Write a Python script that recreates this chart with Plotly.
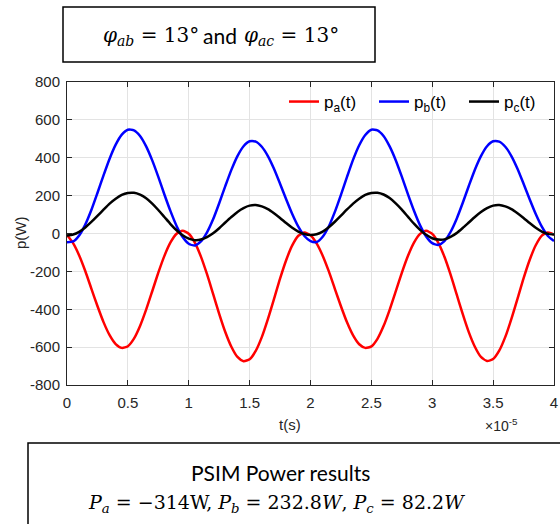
import plotly.graph_objects as go

# time axis in units of 1e-5 s
t = [0.00, 0.05, 0.10, 0.15, 0.20, 0.25, 0.30, 0.35, 0.40, 0.45,
     0.50, 0.55, 0.60, 0.65, 0.70, 0.75, 0.80, 0.85, 0.90, 0.95,
     1.00, 1.05, 1.10, 1.15, 1.20, 1.25, 1.30, 1.35, 1.40, 1.45,
     1.50, 1.55, 1.60, 1.65, 1.70, 1.75, 1.80, 1.85, 1.90, 1.95,
     2.00, 2.05, 2.10, 2.15, 2.20, 2.25, 2.30, 2.35, 2.40, 2.45,
     2.50, 2.55, 2.60, 2.65, 2.70, 2.75, 2.80, 2.85, 2.90, 2.95,
     3.00, 3.05, 3.10, 3.15, 3.20, 3.25, 3.30, 3.35, 3.40, 3.45,
     3.50, 3.55, 3.60, 3.65, 3.70, 3.75, 3.80, 3.85, 3.90, 3.95,
     4.00]

pa = [-8, -51, -116, -198, -291, -383, -468, -537, -584, -604,
      -595, -555, -488, -402, -305, -207, -118, -47, -1, 15,
      -1, -48, -122, -215, -319, -424, -520, -598, -652, -674,
      -664, -620, -547, -452, -346, -238, -141, -63, -12, 5,
      -9, -52, -117, -199, -292, -384, -469, -538, -585, -604,
      -596, -556, -489, -403, -306, -208, -119, -48, -2, 14,
      -2, -49, -123, -216, -320, -425, -521, -598, -652, -673,
      -663, -619, -546, -451, -345, -237, -140, -62, -11, 5,
      -6]

pb = [-46, -42, -10, 47, 124, 214, 307, 395, 469, 522,
      548, 545, 515, 460, 386, 299, 206, 118, 40, -19,
      -54, -63, -42, 6, 75, 160, 250, 336, 409, 461,
      487, 485, 458, 409, 342, 263, 181, 103, 36, -13,
      -40, -45, -17, 37, 114, 204, 299, 390, 466, 520,
      548, 545, 515, 460, 387, 300, 208, 120, 43, -16,
      -51, -60, -40, 8, 77, 161, 251, 337, 409, 461,
      487, 485, 458, 409, 342, 263, 181, 103, 36, -13,
      -40]

pc = [-10, -5, 9, 32, 61, 93, 126, 158, 184, 204,
      214, 215, 205, 186, 158, 124, 87, 50, 17, -9,
      -27, -35, -32, -19, 1, 28, 58, 87, 114, 134,
      147, 150, 143, 129, 107, 82, 55, 30, 10, -3,
      -8, -4, 10, 33, 62, 94, 127, 158, 184, 204,
      214, 215, 206, 187, 159, 126, 89, 52, 19, -7,
      -25, -32, -31, -18, 2, 29, 58, 87, 113, 134,
      147, 150, 143, 129, 107, 82, 55, 30, 10, -2,
      -5]

series_names = ["p<sub>a</sub>(t)", "p<sub>b</sub>(t)", "p<sub>c</sub>(t)"]
series_colors = ["#ff0000", "#0000ff", "#000000"]
x_ticks = [0, 0.5, 1, 1.5, 2, 2.5, 3, 3.5, 4]
x_ticktext = ["0", "0.5", "1", "1.5", "2", "2.5", "3", "3.5", "4"]
y_ticks = [-800, -600, -400, -200, 0, 200, 400, 600, 800]
y_ticktext = ["-800", "-600", "-400", "-200", "0", "200", "400", "600", "800"]

W, H = 560, 524
L, R, T, B = 67, 554, 82, 385  # plot area in pixels


def px(xp):
    return (xp - L) / (R - L)


def py(yp):
    return (B - yp) / (B - T)


fig = go.Figure()
for vals, name, col in zip([pa, pb, pc], series_names, series_colors):
    fig.add_trace(go.Scatter(x=t, y=vals, mode="lines", name=name,
                             line=dict(color=col, width=2.5, shape="spline", smoothing=0.6)))

tick_font = dict(family="Liberation Sans, Arial", size=15, color="#262626")
axis_common = dict(showline=True, linecolor="#262626", linewidth=1, mirror="ticks",
                   ticks="inside", ticklen=5, tickcolor="#262626",
                   showgrid=True, gridcolor="#e3e3e3", gridwidth=1, zeroline=False,
                   tickfont=tick_font)

fig.update_xaxes(range=[0, 4], tickvals=x_ticks, ticktext=x_ticktext,
                 ticklabelstandoff=4, **axis_common)
fig.update_yaxes(range=[-800, 800], tickvals=y_ticks, ticktext=y_ticktext,
                 ticklabelstandoff=3, **axis_common)

math_font = "DejaVu Serif"
sans_font = "Lato"


def ann(text, x, y, font, **kw):
    return dict(text=text, x=px(x), y=py(y), showarrow=False, xref="paper", yref="paper",
                xanchor="center", yanchor="middle", font=font, **kw)


label_font = dict(family="Liberation Sans, Arial", size=15, color="#262626")
annotations = [
    ann("p(W)", 20, 233, label_font, textangle=-90),
    ann("t(s)", 290, 424, label_font),
    ann("×10<sup>-5</sup>", 501, 425, dict(family="Liberation Sans, Arial", size=14, color="#262626")),
    ann("<i>φ</i><sub><i>ab</i></sub> = 13°", 151, 36, dict(family=math_font, size=20, color="#000000")),
    ann("and", 220, 35, dict(family=sans_font, size=21, color="#000000")),
    ann("<i>φ</i><sub><i>ac</i></sub> = 13°", 291, 36, dict(family=math_font, size=20, color="#000000")),
    ann("PSIM Power results", 280, 472, dict(family=sans_font, size=21, color="#000000")),
    ann("<i>P</i><sub><i>a</i></sub> = −314W, <i>P</i><sub><i>b</i></sub> = 232.8<i>W</i>, "
        "<i>P</i><sub><i>c</i></sub> = 82.2<i>W</i>", 276, 503,
        dict(family=math_font, size=19, color="#000000")),
]

shapes = [
    dict(type="rect", xref="paper", yref="paper", x0=px(63), x1=px(375), y0=py(62), y1=py(7),
         line=dict(color="#000000", width=1.5), fillcolor="rgba(0,0,0,0)"),
    dict(type="rect", xref="paper", yref="paper", x0=px(28), x1=px(575), y0=py(540), y1=py(443),
         line=dict(color="#000000", width=1.5), fillcolor="rgba(0,0,0,0)"),
]

fig.update_layout(
    width=W, height=H,
    margin=dict(l=L, r=W - R, t=T, b=H - B, pad=0, autoexpand=False),
    paper_bgcolor="white", plot_bgcolor="white",
    showlegend=True,
    legend=dict(orientation="h", x=1.0, xanchor="right", y=py(102), yanchor="middle",
                bgcolor="rgba(255,255,255,0)", borderwidth=0,
                font=dict(family="Liberation Sans, Arial", size=17, color="#000000"),
                entrywidth=45, entrywidthmode="pixels", tracegroupgap=0),
    annotations=annotations,
    shapes=shapes,
)

fig.write_html("out.html", config={"displayModeBar": False},
               post_script="document.body.style.margin='0';")
